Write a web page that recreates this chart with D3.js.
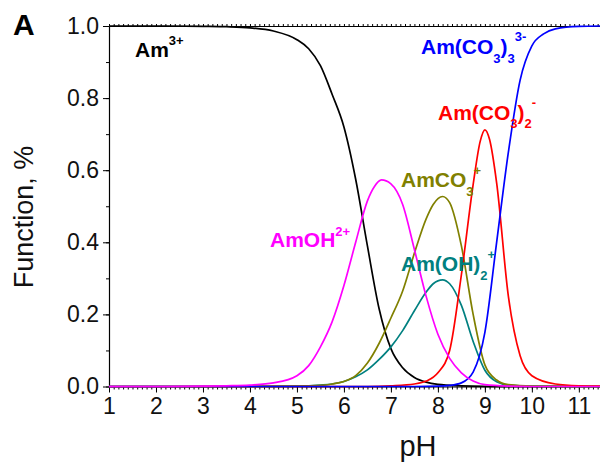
<!DOCTYPE html>
<html>
<head>
<meta charset="utf-8">
<script src="https://cdn.jsdelivr.net/npm/d3@7"></script>
<style>
  body { margin: 0; background: #fff; }
  svg { display: block; font-family: "Liberation Sans", Arial, sans-serif; }
</style>
</head>
<body>
<div id="chart"></div>
<script>
'use strict';

// data -----------------------------------------
const xTicks = [1, 2, 3, 4, 5, 6, 7, 8, 9, 10, 11]
const yTicks = [0, 0.2, 0.4, 0.6, 0.8, 1.0]

// Am3+
const phAm   = [1, 2, 3, 3.5, 4, 4.5, 5, 5.25, 5.5, 5.75, 6, 6.25, 6.5, 6.75, 7, 7.25, 7.5, 7.75, 8, 8.5, 9, 10, 11.45]
const fAm    = [1, 1, 0.999, 0.998, 0.995, 0.986, 0.962, 0.937, 0.89, 0.81, 0.72, 0.575, 0.39, 0.215, 0.105, 0.052, 0.025, 0.012, 0.006, 0.002, 0.0005, 0, 0]
// AmOH2+
const phAmOH = [1, 2, 3, 3.5, 4, 4.5, 5, 5.25, 5.5, 5.75, 6, 6.25, 6.5, 6.65, 6.8, 7, 7.25, 7.5, 7.75, 8, 8.25, 8.5, 8.75, 9, 9.5, 10, 11.45]
const fAmOH  = [0, 0, 0.001, 0.002, 0.004, 0.01, 0.03, 0.058, 0.11, 0.18, 0.28, 0.4, 0.515, 0.555, 0.573, 0.562, 0.505, 0.38, 0.25, 0.145, 0.078, 0.038, 0.015, 0.005, 0.001, 0, 0]
// Am(OH)2+
const phAmOH2 = [1, 4, 5, 5.5, 5.75, 6, 6.25, 6.5, 6.75, 7, 7.25, 7.5, 7.75, 7.9, 8.1, 8.25, 8.5, 8.75, 9, 9.25, 9.5, 10, 11.45]
const fAmOH2  = [0, 0, 0.001, 0.004, 0.007, 0.014, 0.027, 0.046, 0.075, 0.11, 0.155, 0.21, 0.262, 0.285, 0.296, 0.285, 0.225, 0.125, 0.045, 0.013, 0.004, 0.001, 0]
// AmCO3+
const phAmCO3 = [1, 4, 5, 5.5, 5.75, 6, 6.25, 6.5, 6.75, 7, 7.25, 7.5, 7.75, 7.9, 8.1, 8.25, 8.5, 8.75, 9, 9.25, 9.5, 10, 11.45]
const fAmCO3  = [0, 0, 0.001, 0.003, 0.007, 0.014, 0.03, 0.065, 0.12, 0.19, 0.265, 0.37, 0.465, 0.505, 0.527, 0.51, 0.39, 0.2, 0.06, 0.018, 0.005, 0.001, 0]
// Am(CO3)2-
const phAmCO32 = [1, 6.5, 7, 7.5, 7.75, 8, 8.25, 8.5, 8.75, 8.9, 9, 9.1, 9.25, 9.5, 9.75, 10, 10.5, 11, 11.45]
const fAmCO32  = [0, 0, 0.002, 0.007, 0.015, 0.038, 0.1, 0.31, 0.56, 0.68, 0.712, 0.685, 0.565, 0.25, 0.085, 0.03, 0.007, 0.002, 0.001]
// Am(CO3)3 3-
const phAmCO33 = [1, 7.5, 8, 8.25, 8.5, 8.75, 9, 9.25, 9.5, 9.75, 10, 10.25, 10.5, 11, 11.45]
const fAmCO33  = [0, 0, 0.001, 0.003, 0.01, 0.04, 0.15, 0.4, 0.65, 0.85, 0.945, 0.978, 0.992, 0.999, 1]


// layout ---------------------
const width   = 600
const height  = 465
const padLeft   = 109
const padRight  = 600
const padTop    = 26
const padBottom = 386.5
const font    = '"Liberation Sans", Arial, sans-serif'

var svg = d3.select('#chart').append('svg')
    .attr('width', width)
    .attr('height', height);

var x = d3.scaleLinear().domain([1, 11.45]).range([padLeft, padRight])
var y = d3.scaleLinear().domain([0, 1]).range([padBottom, padTop])

var minorX = d3.range(10, 115).map(function(d){return d / 10})
var minorY = d3.range(0, 11).map(function(d){return d / 10})


// AXES ---------------------
// minor ticks bottom
svg.append('g')
    .attr('transform', 'translate(0,' + padBottom + ')')
    .call(d3.axisBottom(x).tickValues(minorX).tickSize(3).tickFormat(''))
    .call(function(g){g.select('.domain').remove()})

// major ticks bottom
var xAxis = svg.append('g')
    .attr('transform', 'translate(0,' + padBottom + ')')
    .call(d3.axisBottom(x).tickValues(xTicks).tickSize(6).tickPadding(5).tickSizeOuter(0).tickFormat(d3.format('d')))
xAxis.selectAll('text').attr('font-size', 23).attr('font-family', font).attr('fill', '#111')

// top frame with small ticks
svg.append('g')
    .attr('transform', 'translate(0,' + padTop + ')')
    .call(d3.axisTop(x).tickValues(minorX).tickSize(2).tickFormat('').tickSizeOuter(0))

// left axis
svg.append('g')
    .attr('transform', 'translate(' + padLeft + ',0)')
    .call(d3.axisLeft(y).tickValues(minorY).tickSize(3).tickFormat(''))
    .call(function(g){g.select('.domain').remove()})

var yAxis = svg.append('g')
    .attr('transform', 'translate(' + padLeft + ',0)')
    .call(d3.axisLeft(y).tickValues(yTicks).tickSize(6).tickPadding(4).tickSizeOuter(0).tickFormat(d3.format('.1f')))
yAxis.selectAll('text').attr('font-size', 23).attr('font-family', font).attr('fill', '#111')

svg.selectAll('.domain').attr('stroke-width', 1.2)
svg.selectAll('.tick line').attr('stroke-width', 1)

// axis titles
svg.append('text')
    .attr('x', 418).attr('y', 456)
    .attr('text-anchor', 'middle')
    .attr('font-size', 29).attr('font-family', font).attr('fill', '#111')
    .text('pH')

svg.append('text')
    .attr('transform', 'translate(33,217) rotate(-90)')
    .attr('text-anchor', 'middle')
    .attr('font-size', 27).attr('font-family', font).attr('fill', '#111')
    .text('Function, %')

// panel letter
svg.append('text')
    .attr('x', 13).attr('y', 35)
    .attr('font-size', 30).attr('font-weight', 'bold').attr('font-family', font)
    .text('A')


// CURVES ---------------------
var series = [
    {ph: phAm,     f: fAm,     color: '#000000'},
    {ph: phAmOH2,  f: fAmOH2,  color: '#008080'},
    {ph: phAmCO3,  f: fAmCO3,  color: '#808000'},
    {ph: phAmCO32, f: fAmCO32, color: '#ff0000'},
    {ph: phAmCO33, f: fAmCO33, color: '#0000ff'},
    {ph: phAmOH,   f: fAmOH,   color: '#ff00ff'}
]

var line = d3.line()
    .x(function(d){return x(d[0])})
    .y(function(d){return y(d[1])})
    .curve(d3.curveMonotoneX)

svg.append('g').selectAll('path')
    .data(series)
    .enter().append('path')
    .attr('d', function(s){return line(s.ph.map(function(p, i){return [p, s.f[i]]}))})
    .attr('fill', 'none')
    .attr('stroke', function(s){return s.color})
    .attr('stroke-width', 1.7)


// LABELS ---------------------
// parts: [text, baseline offset]; offset 0 = main, >0 subscript, <0 superscript
function label(px, py, color, parts) {
    var t = svg.append('text')
        .attr('x', px).attr('y', py)
        .attr('fill', color)
        .attr('font-weight', 'bold')
        .attr('font-family', font)
    var cur = 0
    parts.forEach(function(p){
        t.append('tspan')
            .attr('dy', p[1] - cur)
            .attr('font-size', p[1] == 0 ? 21 : 13)
            .text(p[0])
        cur = p[1]
    })
}

label(135, 57, '#000000', [['Am', 0], ['3+', -12]])
label(421, 54, '#0000ff', [['Am(CO', 0], ['3', 9], [')', 0], ['3', 9], ['3-', -13]])
label(438, 120, '#ff0000', [['Am(CO', 0], ['3', 8], [')', 0], ['2', 8], ['-', -13]])
label(401, 187, '#808000', [['AmCO', 0], ['3', 9], ['+', -12]])
label(270, 247, '#ff00ff', [['AmOH', 0], ['2+', -11]])
label(401, 271, '#008080', [['Am(OH)', 0], ['2', 9], ['+', -12]])
</script>
</body>
</html>
